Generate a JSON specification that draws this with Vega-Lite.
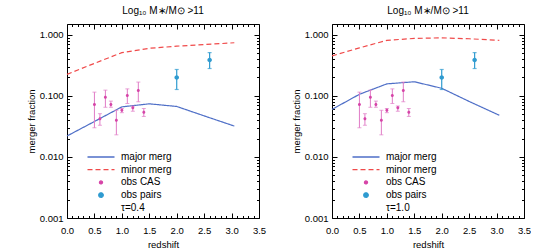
{
  "$schema": "https://vega.github.io/schema/vega-lite/v6.json",
  "padding": {"left": 26, "top": 5, "right": 0, "bottom": 0},
  "config": {
    "font": "Liberation Sans",
    "view": {"stroke": null},
    "axis": {"grid": false, "domainColor": "black", "tickColor": "black", "labelColor": "black", "titleColor": "black", "labelFontSize": 9.5, "titleFontSize": 9.5, "titleFontWeight": "normal", "labelOverlap": false, "labelFlush": false, "tickWidth": 1, "domainWidth": 1},
    "title": {"fontSize": 10, "fontWeight": "normal", "offset": 8, "color": "black"},
    "legend": {"orient": "none", "legendX": 29, "legendY": 128, "labelFontSize": 10, "symbolSize": 36, "symbolStrokeWidth": 1.3, "rowPadding": 2.7, "labelOffset": 15, "padding": 0, "labelColor": "black"}
  },
  "datasets": {
    "linesL": [
      {"z": 0.0, "f": 0.022, "s": "major merg"},
      {"z": 0.5, "f": 0.038, "s": "major merg"},
      {"z": 1.0, "f": 0.066, "s": "major merg"},
      {"z": 1.5, "f": 0.074, "s": "major merg"},
      {"z": 2.0, "f": 0.067, "s": "major merg"},
      {"z": 2.5, "f": 0.047, "s": "major merg"},
      {"z": 3.05, "f": 0.032, "s": "major merg"},
      {"z": 0.0, "f": 0.225, "s": "minor merg"},
      {"z": 0.5, "f": 0.34, "s": "minor merg"},
      {"z": 1.0, "f": 0.51, "s": "minor merg"},
      {"z": 1.5, "f": 0.60, "s": "minor merg"},
      {"z": 2.0, "f": 0.65, "s": "minor merg"},
      {"z": 2.5, "f": 0.69, "s": "minor merg"},
      {"z": 3.05, "f": 0.74, "s": "minor merg"}
    ],
    "linesR": [
      {"z": 0.0, "f": 0.06, "s": "major merg"},
      {"z": 0.5, "f": 0.106, "s": "major merg"},
      {"z": 1.0, "f": 0.157, "s": "major merg"},
      {"z": 1.5, "f": 0.17, "s": "major merg"},
      {"z": 2.0, "f": 0.133, "s": "major merg"},
      {"z": 2.5, "f": 0.081, "s": "major merg"},
      {"z": 3.05, "f": 0.048, "s": "major merg"},
      {"z": 0.0, "f": 0.45, "s": "minor merg"},
      {"z": 0.5, "f": 0.61, "s": "minor merg"},
      {"z": 1.0, "f": 0.81, "s": "minor merg"},
      {"z": 1.5, "f": 0.87, "s": "minor merg"},
      {"z": 2.0, "f": 0.89, "s": "minor merg"},
      {"z": 2.5, "f": 0.86, "s": "minor merg"},
      {"z": 3.05, "f": 0.81, "s": "minor merg"}
    ],
    "cas": [
      {"z": 0.5, "f": 0.072, "lo": 0.030, "hi": 0.115, "s": "obs CAS"},
      {"z": 0.6, "f": 0.042, "lo": 0.033, "hi": 0.051, "s": "obs CAS"},
      {"z": 0.7, "f": 0.095, "lo": 0.065, "hi": 0.124, "s": "obs CAS"},
      {"z": 0.8, "f": 0.072, "lo": 0.065, "hi": 0.082, "s": "obs CAS"},
      {"z": 0.9, "f": 0.040, "lo": 0.023, "hi": 0.058, "s": "obs CAS"},
      {"z": 1.0, "f": 0.058, "lo": 0.053, "hi": 0.062, "s": "obs CAS"},
      {"z": 1.1, "f": 0.101, "lo": 0.075, "hi": 0.130, "s": "obs CAS"},
      {"z": 1.2, "f": 0.064, "lo": 0.056, "hi": 0.068, "s": "obs CAS"},
      {"z": 1.3, "f": 0.122, "lo": 0.080, "hi": 0.168, "s": "obs CAS"},
      {"z": 1.4, "f": 0.054, "lo": 0.046, "hi": 0.062, "s": "obs CAS"}
    ],
    "pairs": [
      {"z": 2.0, "f": 0.20, "lo": 0.127, "hi": 0.27, "s": "obs pairs"},
      {"z": 2.6, "f": 0.385, "lo": 0.28, "hi": 0.51, "s": "obs pairs"}
    ]
  },
  "resolve": {"scale": {"color": "independent", "shape": "independent", "strokeDash": "independent"}},
  "spacing": 25,
  "hconcat": [
    {
      "width": 192, "height": 194,
      "title": {"text": "Log₁₀ M∗/M⊙ >11"},
      "resolve": {"axis": {"x": "independent", "y": "independent"}},
      "layer": [
        {
          "data": {"name": "linesL"},
          "mark": {"type": "line", "strokeWidth": 1.2},
          "encoding": {
            "x": {"field": "z", "type": "quantitative", "scale": {"domain": [0, 3.5], "nice": false, "zero": false},
              "axis": {"orient": "bottom", "values": [0,0.1,0.2,0.3,0.4,0.5,0.6,0.7,0.8,0.9,1,1.1,1.2,1.3,1.4,1.5,1.6,1.7,1.8,1.9,2,2.1,2.2,2.3,2.4,2.5,2.6,2.7,2.8,2.9,3,3.1,3.2,3.3,3.4,3.5],
                "labelExpr": "abs(datum.value*2-round(datum.value*2))<0.001 ? format(datum.value,'.1f') : ''",
                "tickSize": {"condition": {"test": "abs(datum.value*2-round(datum.value*2))<0.001", "value": -5}, "value": -2.5},
                "labelPadding": 12, "title": "redshift", "titlePadding": 2}},
            "y": {"field": "f", "type": "quantitative", "scale": {"type": "log", "domain": [0.001, 1.5], "nice": false},
              "axis": {"orient": "left", "values": [0.001,0.002,0.003,0.004,0.005,0.006,0.007,0.008,0.009,0.01,0.02,0.03,0.04,0.05,0.06,0.07,0.08,0.09,0.1,0.2,0.3,0.4,0.5,0.6,0.7,0.8,0.9,1],
                "labelExpr": "abs(log(datum.value)/LN10-round(log(datum.value)/LN10))<0.001 ? format(datum.value,'.3f') : ''",
                "tickSize": {"condition": {"test": "abs(log(datum.value)/LN10-round(log(datum.value)/LN10))<0.001", "value": -5}, "value": -2.5},
                "labelPadding": 9, "title": "merger fraction", "titlePadding": 3}},
            "color": {"field": "s", "type": "nominal", "legend": {"title": null},
              "scale": {"domain": ["major merg", "minor merg", "obs CAS", "obs pairs", "τ=0.4"], "range": ["#4f6fc7", "#f04a4a", "#d645a8", "#2f9bd0", "rgba(0,0,0,0)"]}},
            "strokeDash": {"field": "s", "type": "nominal", "legend": {"title": null},
              "scale": {"domain": ["major merg", "minor merg", "obs CAS", "obs pairs", "τ=0.4"], "range": [[1,0],[5,3],[1,0],[1,0],[1,0]]}}
          }
        },
        {
          "data": {"name": "cas"},
          "mark": {"type": "errorbar", "color": "#e07cc6", "size": 4, "thickness": 1, "ticks": true},
          "encoding": {
            "x": {"field": "z", "type": "quantitative", "axis": null},
            "y": {"field": "lo", "type": "quantitative", "axis": null},
            "y2": {"field": "hi"}
          }
        },
        {
          "data": {"name": "pairs"},
          "mark": {"type": "errorbar", "color": "#2f9bd0", "size": 4, "thickness": 1.2, "ticks": true},
          "encoding": {
            "x": {"field": "z", "type": "quantitative", "axis": null},
            "y": {"field": "lo", "type": "quantitative", "axis": null},
            "y2": {"field": "hi"}
          }
        },
        {
          "data": {"name": "cas"},
          "mark": {"type": "point", "filled": true, "size": 36, "opacity": 1},
          "encoding": {
            "x": {"field": "z", "type": "quantitative",
              "axis": {"orient": "top", "labels": false, "title": null, "values": [0,0.1,0.2,0.3,0.4,0.5,0.6,0.7,0.8,0.9,1,1.1,1.2,1.3,1.4,1.5,1.6,1.7,1.8,1.9,2,2.1,2.2,2.3,2.4,2.5,2.6,2.7,2.8,2.9,3,3.1,3.2,3.3,3.4,3.5],
                "tickSize": {"condition": {"test": "abs(datum.value*2-round(datum.value*2))<0.001", "value": -5}, "value": -2.5}}},
            "y": {"field": "f", "type": "quantitative",
              "axis": {"orient": "right", "labels": false, "title": null, "values": [0.001,0.002,0.003,0.004,0.005,0.006,0.007,0.008,0.009,0.01,0.02,0.03,0.04,0.05,0.06,0.07,0.08,0.09,0.1,0.2,0.3,0.4,0.5,0.6,0.7,0.8,0.9,1],
                "tickSize": {"condition": {"test": "abs(log(datum.value)/LN10-round(log(datum.value)/LN10))<0.001", "value": -5}, "value": -2.5}}},
            "color": {"field": "s", "type": "nominal", "legend": {"title": null}},
            "shape": {"field": "s", "type": "nominal", "legend": {"title": null},
              "scale": {"domain": ["major merg", "minor merg", "obs CAS", "obs pairs", "τ=0.4"], "range": ["M-4.5,0H4.5", "M-4.5,0H4.5", "M-0.5,0A0.5,0.5,0,1,1,0.5,0A0.5,0.5,0,1,1,-0.5,0Z", "M-0.75,0A0.75,0.75,0,1,1,0.75,0A0.75,0.75,0,1,1,-0.75,0Z", "M0,0L0,0"]}}
          }
        },
        {
          "data": {"name": "pairs"},
          "mark": {"type": "point", "filled": true, "size": 36, "opacity": 1},
          "encoding": {
            "x": {"field": "z", "type": "quantitative", "axis": null},
            "y": {"field": "f", "type": "quantitative", "axis": null},
            "color": {"field": "s", "type": "nominal", "legend": {"title": null}},
            "shape": {"field": "s", "type": "nominal", "legend": {"title": null}}
          }
        }
      ]
    },
    {
      "width": 192, "height": 194,
      "title": {"text": "Log₁₀ M∗/M⊙ >11"},
      "resolve": {"axis": {"x": "independent", "y": "independent"}},
      "layer": [
        {
          "data": {"name": "linesR"},
          "mark": {"type": "line", "strokeWidth": 1.2},
          "encoding": {
            "x": {"field": "z", "type": "quantitative", "scale": {"domain": [0, 3.5], "nice": false, "zero": false},
              "axis": {"orient": "bottom", "values": [0,0.1,0.2,0.3,0.4,0.5,0.6,0.7,0.8,0.9,1,1.1,1.2,1.3,1.4,1.5,1.6,1.7,1.8,1.9,2,2.1,2.2,2.3,2.4,2.5,2.6,2.7,2.8,2.9,3,3.1,3.2,3.3,3.4,3.5],
                "labelExpr": "abs(datum.value*2-round(datum.value*2))<0.001 ? format(datum.value,'.1f') : ''",
                "tickSize": {"condition": {"test": "abs(datum.value*2-round(datum.value*2))<0.001", "value": -5}, "value": -2.5},
                "labelPadding": 12, "title": "redshift", "titlePadding": 2}},
            "y": {"field": "f", "type": "quantitative", "scale": {"type": "log", "domain": [0.001, 1.5], "nice": false},
              "axis": {"orient": "left", "values": [0.001,0.002,0.003,0.004,0.005,0.006,0.007,0.008,0.009,0.01,0.02,0.03,0.04,0.05,0.06,0.07,0.08,0.09,0.1,0.2,0.3,0.4,0.5,0.6,0.7,0.8,0.9,1],
                "labelExpr": "abs(log(datum.value)/LN10-round(log(datum.value)/LN10))<0.001 ? format(datum.value,'.3f') : ''",
                "tickSize": {"condition": {"test": "abs(log(datum.value)/LN10-round(log(datum.value)/LN10))<0.001", "value": -5}, "value": -2.5},
                "labelPadding": 9, "title": "merger fraction", "titlePadding": 3}},
            "color": {"field": "s", "type": "nominal", "legend": {"title": null},
              "scale": {"domain": ["major merg", "minor merg", "obs CAS", "obs pairs", "τ=1.0"], "range": ["#4f6fc7", "#f04a4a", "#d645a8", "#2f9bd0", "rgba(0,0,0,0)"]}},
            "strokeDash": {"field": "s", "type": "nominal", "legend": {"title": null},
              "scale": {"domain": ["major merg", "minor merg", "obs CAS", "obs pairs", "τ=1.0"], "range": [[1,0],[5,3],[1,0],[1,0],[1,0]]}}
          }
        },
        {
          "data": {"name": "cas"},
          "mark": {"type": "errorbar", "color": "#e07cc6", "size": 4, "thickness": 1, "ticks": true},
          "encoding": {
            "x": {"field": "z", "type": "quantitative", "axis": null},
            "y": {"field": "lo", "type": "quantitative", "axis": null},
            "y2": {"field": "hi"}
          }
        },
        {
          "data": {"name": "pairs"},
          "mark": {"type": "errorbar", "color": "#2f9bd0", "size": 4, "thickness": 1.2, "ticks": true},
          "encoding": {
            "x": {"field": "z", "type": "quantitative", "axis": null},
            "y": {"field": "lo", "type": "quantitative", "axis": null},
            "y2": {"field": "hi"}
          }
        },
        {
          "data": {"name": "cas"},
          "mark": {"type": "point", "filled": true, "size": 36, "opacity": 1},
          "encoding": {
            "x": {"field": "z", "type": "quantitative",
              "axis": {"orient": "top", "labels": false, "title": null, "values": [0,0.1,0.2,0.3,0.4,0.5,0.6,0.7,0.8,0.9,1,1.1,1.2,1.3,1.4,1.5,1.6,1.7,1.8,1.9,2,2.1,2.2,2.3,2.4,2.5,2.6,2.7,2.8,2.9,3,3.1,3.2,3.3,3.4,3.5],
                "tickSize": {"condition": {"test": "abs(datum.value*2-round(datum.value*2))<0.001", "value": -5}, "value": -2.5}}},
            "y": {"field": "f", "type": "quantitative",
              "axis": {"orient": "right", "labels": false, "title": null, "values": [0.001,0.002,0.003,0.004,0.005,0.006,0.007,0.008,0.009,0.01,0.02,0.03,0.04,0.05,0.06,0.07,0.08,0.09,0.1,0.2,0.3,0.4,0.5,0.6,0.7,0.8,0.9,1],
                "tickSize": {"condition": {"test": "abs(log(datum.value)/LN10-round(log(datum.value)/LN10))<0.001", "value": -5}, "value": -2.5}}},
            "color": {"field": "s", "type": "nominal", "legend": {"title": null}},
            "shape": {"field": "s", "type": "nominal", "legend": {"title": null},
              "scale": {"domain": ["major merg", "minor merg", "obs CAS", "obs pairs", "τ=1.0"], "range": ["M-4.5,0H4.5", "M-4.5,0H4.5", "M-0.5,0A0.5,0.5,0,1,1,0.5,0A0.5,0.5,0,1,1,-0.5,0Z", "M-0.75,0A0.75,0.75,0,1,1,0.75,0A0.75,0.75,0,1,1,-0.75,0Z", "M0,0L0,0"]}}
          }
        },
        {
          "data": {"name": "pairs"},
          "mark": {"type": "point", "filled": true, "size": 36, "opacity": 1},
          "encoding": {
            "x": {"field": "z", "type": "quantitative", "axis": null},
            "y": {"field": "f", "type": "quantitative", "axis": null},
            "color": {"field": "s", "type": "nominal", "legend": {"title": null}},
            "shape": {"field": "s", "type": "nominal", "legend": {"title": null}}
          }
        }
      ]
    }
  ]
}
